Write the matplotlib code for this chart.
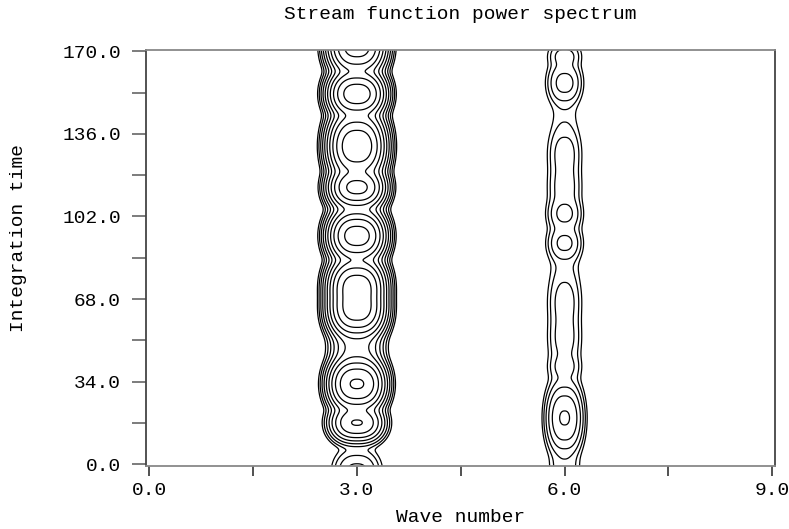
import numpy as np
import matplotlib.pyplot as plt

# wave number 3 band: ovals (time, log-height in contour steps, time spread)
t3 = [172, 152.5, 131, 114, 94, 73, 64, 33, 17, -3]
h3 = [10.5, 10.6, 10.8, 10.3, 10.5, 10.6, 10.6, 10.1, 8.05, 4.3]
s3 = [4, 3.5, 5, 3.2, 3.8, 4.2, 4.2, 4, 3, 4]
# broad background level between the ovals
bg3_t = [40, 60, 80, 100, 120, 140, 160, 180]
bg3_h = [6.3, 6.0, 6.5, 6.5, 6.5, 6.6, 6.7, 6.7]
wk3, p3 = 0.23, 2.5

# wave number 6 band
t6 = [168, 157, 128, 114, 103, 91, 67, 52, 40, 19, -2]
h6 = [3.3, 4.35, 3.4, 3.4, 4.2, 4.2, 3.3, 3.3, 3.2, 6.1, 2.3]
s6 = [2.5, 4, 5.5, 5.5, 3.5, 3.5, 6, 6, 3, 6, 4]
bg6_t = [0, 20, 40, 60, 80, 100, 120, 140, 160, 180]
bg6_h = [1.6, 1.6, 1.7, 1.7, 2.0, 1.7, 1.7, 1.4, 1.6, 1.6]
wk6, p6 = 0.17, 2.5
bg_s = 10

levels = np.arange(1, 12, 1.0)

xticks = [0, 3, 6, 9]
yticks = [0, 34, 68, 102, 136, 170]

k = np.linspace(0, 9, 901)
t = np.linspace(-1, 171, 689)
K, T = np.meshgrid(k, t)

P = np.zeros_like(K)
bands = [(3, t3 + bg3_t, h3 + bg3_h, s3 + [bg_s] * len(bg3_t), wk3, p3),
         (6, t6 + bg6_t, h6 + bg6_h, s6 + [bg_s] * len(bg6_t), wk6, p6)]
for k0, ts, hs, ss, wk, p in bands:
    prof = np.exp(-(np.abs(K - k0) / wk) ** p)
    for tc, h, s in zip(ts, hs, ss):
        P += prof * np.exp(h - 0.5 * ((T - tc) / s) ** 2)
Z = np.log(P + 1e-12)

plt.rcParams['font.family'] = ['Liberation Mono', 'DejaVu Sans Mono']
plt.rcParams['font.size'] = 14

fig = plt.figure(figsize=(7.89, 5.29), dpi=100)
ax = fig.add_axes([146 / 789, 1 - 466 / 529, (775 - 146) / 789, (466 - 50) / 529])

ax.contour(K, T, Z, levels=levels, colors='black', linewidths=0.9)

ax.set_xlim(-0.048, 9.04)
ax.set_ylim(-0.8, 170.6)
ax.set_xticks(xticks)
ax.set_xticklabels(['%.1f' % v for v in xticks])
ax.set_xticks([1.5, 4.5, 7.5], minor=True)
ax.set_yticks(yticks)
ax.set_yticklabels(['%.1f' % v for v in yticks])
ax.set_yticks([17, 51, 85, 119, 153], minor=True)

ax.tick_params(axis='x', which='both', direction='out', length=7.5, width=1.2, color='#333333', pad=4)
ax.tick_params(axis='y', which='both', direction='out', length=10, width=1.2, color='#666666', pad=8)
for side in ['top', 'bottom']:
    ax.spines[side].set_color('#888888')
for side in ['left', 'right']:
    ax.spines[side].set_color('#444444')
for sp in ax.spines.values():
    sp.set_linewidth(1.3)

ax.set_title('Stream function power spectrum', fontsize=14, pad=22)
ax.set_xlabel('Wave number', fontsize=14, labelpad=7)
fig.text(19 / 789, 1 - 238 / 529, 'Integration time', fontsize=14,
         rotation=90, ha='center', va='center')

fig.savefig('out.png', dpi=100)
